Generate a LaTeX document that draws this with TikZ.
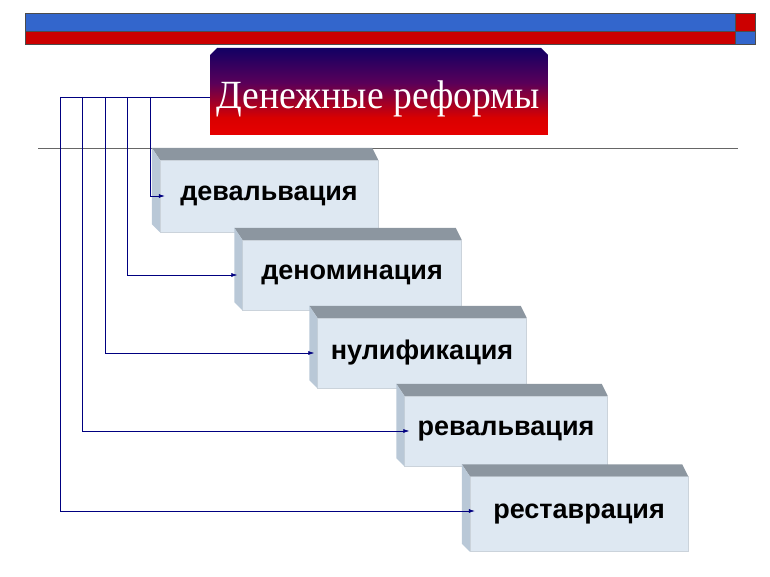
\documentclass[tikz,border=0pt]{standalone}
\usepackage{fontspec}
\setmainfont{Liberation Sans}
\newfontfamily\titlefont{Liberation Serif}
\usetikzlibrary{arrows.meta, positioning}
\definecolor{barblue}{RGB}{51,102,204}
\definecolor{barred}{RGB}{204,0,0}
\definecolor{linknavy}{RGB}{0,0,128}
\definecolor{faceblue}{RGB}{222,232,242}
\definecolor{topgray}{RGB}{140,150,160}
\definecolor{sidegray}{RGB}{185,200,215}
\pgfdeclareverticalshading{titleshade}{100bp}{
  color(0bp)=(orange!90!yellow); color(8bp)=(red); color(35bp)=(red!85!black);
  color(55bp)=(violet!70!black); color(80bp)=(blue!40!black); color(100bp)=(blue!30!black)}
\tikzset{
  face/.style={rectangle, fill=faceblue, draw=faceblue!80!gray, thin, inner sep=0pt,
    font=\fontsize{27}{30}\selectfont\bfseries},
  topface/.style={fill=topgray},
  sideface/.style={fill=sidegray},
  link/.style={draw=linknavy, semithick},
  arrowlink/.style={link, -{Latex[length=6pt,width=4pt]}}
}
\newcommand{\brick}[5]{%
  \node[face, minimum width=#4pt, minimum height=#5pt] (#1) at (#2) {\raisebox{-5pt}{#3}};
  \fill[topface] (#1.north west) -- ++(-8,-12) -- ([shift={(-6,-12)}]#1.north east) -- (#1.north east) -- cycle;
  \fill[sideface] (#1.north west) -- ++(-8,-12) -- ([shift={(-8,-8)}]#1.south west) -- (#1.south west) -- cycle;
}
\begin{document}
\begin{tikzpicture}[x=1pt, y=-1pt]
    \useasboundingbox (0,0) rectangle (770,577);

    % Header bars.
    \fill[barblue] (25,13) rectangle (735,31);
    \fill[barred] (25,31) rectangle (735,44);
    \fill[barred] (735,13) rectangle (755,31);
    \fill[barblue] (735,31) rectangle (755,44);
    \draw[black!70, thin] (25,13) rectangle (755,44) (25,31) -- (755,31) (735,13) -- (735,44);

    % Title.
    \shade[shading=titleshade] (210,55) -- (217,48) -- (541,48) -- (548,55) -- (548,135) -- (210,135) -- cycle;
    \node[inner sep=0pt, text=white, xscale=0.94, font=\titlefont\fontsize{40}{42}\selectfont] (title) at (378,99) {Денежные реформы};
    \coordinate (tw) at (210,97);

    % Rule.
    \draw[black!60, thin] (38,148) -- (738,148);

    % Bricks.
    \brick{dev}{269,196}{девальвация}{218}{72}
    \brick{den}{352,275}{деноминация}{219}{70}
    \brick{nul}{422,353}{нулификация}{209}{70}
    \brick{rev}{506,431}{ревальвация}{203}{70}
    \brick{res}{579,514}{реставрация}{218}{75}

    % Connectors.
    \coordinate (j1) at (150,97);
    \coordinate (j2) at (127,97);
    \coordinate (j3) at (105,97);
    \coordinate (j4) at (82,97);
    \coordinate (j5) at (60,97);
    \draw[link] (tw) -- (j5);
    \draw[arrowlink] (j1) |- ([xshift=5pt]dev.west);
    \draw[arrowlink] (j2) |- ([xshift=-5pt]den.west);
    \draw[arrowlink] (j3) |- ([xshift=-3pt]nul.west);
    \draw[arrowlink] (j4) |- ([xshift=5pt]rev.west);
    \draw[arrowlink] (j5) |- ([xshift=5pt,yshift=3pt]res.west);
\end{tikzpicture}
\end{document}
